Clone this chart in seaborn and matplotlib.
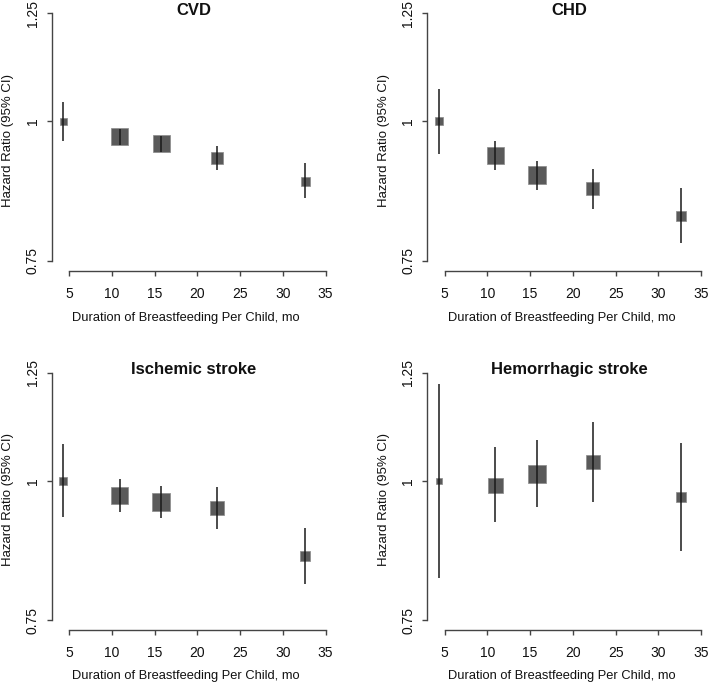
import numpy as np
import pandas as pd
import matplotlib
matplotlib.use("Agg")
import matplotlib.pyplot as plt
import seaborn as sns

# ---- data ----
titles = ["CVD", "CHD", "Ischemic stroke", "Hemorrhagic stroke"]
duration = [4.34, 10.92, 15.78, 22.32, 32.64]

cvd_hr = [1.000, 0.969, 0.955, 0.927, 0.884]
cvd_lo = [0.961, 0.952, 0.938, 0.904, 0.854]
cvd_hi = [1.040, 0.985, 0.971, 0.951, 0.917]
cvd_w = [7.5, 17, 17, 12, 9]

chd_hr = [1.000, 0.932, 0.895, 0.870, 0.822]
chd_lo = [0.935, 0.905, 0.868, 0.835, 0.778]
chd_hi = [1.069, 0.960, 0.922, 0.907, 0.871]
chd_w = [8, 17, 18, 13, 10]

isc_hr = [1.000, 0.970, 0.958, 0.946, 0.856]
isc_lo = [0.929, 0.938, 0.926, 0.906, 0.808]
isc_hi = [1.080, 1.003, 0.989, 0.988, 0.908]
isc_w = [8, 17, 18, 14, 10]

hem_hr = [1.000, 0.991, 1.015, 1.040, 0.968]
hem_lo = [0.819, 0.918, 0.948, 0.958, 0.866]
hem_hi = [1.221, 1.073, 1.089, 1.130, 1.082]
hem_w = [6.5, 15, 18, 14, 10]

series = [
    (cvd_hr, cvd_lo, cvd_hi, cvd_w),
    (chd_hr, chd_lo, chd_hi, chd_w),
    (isc_hr, isc_lo, isc_hi, isc_w),
    (hem_hr, hem_lo, hem_hi, hem_w),
]

xticks = [5, 10, 15, 20, 25, 30, 35]
yticks = [0.75, 1.0, 1.25]
ytick_labels = ["0.75", "1", "1.25"]
xlabel = "Duration of Breastfeeding Per Child, mo"
ylabel = "Hazard Ratio (95% CI)"

# ---- style ----
sns.set_style("white")
plt.rcParams["font.family"] = ["Liberation Sans", "DejaVu Sans"]

W, H = 709, 686
fig = plt.figure(figsize=(W / 100, H / 100), dpi=100)

axis_col = "#444444"
text_col = "#111111"
# panel pixel geometry (left edge, bottom edge of plotting region, xlabel offset)
panel_px = [(51.7, 270.7, 47.3), (427.3, 270.7, 47.3), (51.7, 630.3, 46.0), (427.3, 630.3, 46.0)]
pw, ph = 284.3, 267.4

for (hr, lo, hi, w), title, (lx, by, xo) in zip(series, titles, panel_px):
    ax = fig.add_axes([lx / W, 1 - by / H, pw / W, ph / H])
    ax.set_facecolor("none")
    df = pd.DataFrame({"x": duration, "hr": hr, "lo": lo, "hi": hi, "w": w})
    df["s"] = (df["w"] * 0.72) ** 2
    sns.scatterplot(data=df, x="x", y="hr", size="s", sizes=(df["s"].min(), df["s"].max()),
                    marker="s", color="#5a5a5a", edgecolor="#8a8a8a", linewidth=0.5,
                    legend=False, ax=ax, zorder=2)
    ax.vlines(df["x"], df["lo"], df["hi"], color="#1a1a1a", linewidth=1.1, zorder=3)

    ax.set_yscale("log")
    ax.set_xlim(2.98, 36.21)
    ax.set_ylim(0.75 * np.exp(-0.0206), 1.25 * np.exp(0.0204))
    ax.set_yticks(yticks)
    ax.set_yticklabels(ytick_labels, rotation=90, va="center")
    ax.yaxis.set_minor_locator(matplotlib.ticker.NullLocator())
    ax.set_xticks(xticks)
    ax.set_xticklabels([str(t) for t in xticks])

    for side in ["top", "right"]:
        ax.spines[side].set_visible(False)
    ax.spines["left"].set_bounds(0.75, 1.25)
    ax.spines["bottom"].set_bounds(5, 35)
    for side in ["left", "bottom"]:
        ax.spines[side].set_color(axis_col)
        ax.spines[side].set_linewidth(1.0)
    ax.tick_params(axis="both", which="major", direction="out", length=3.6, width=1.0,
                   color=axis_col, labelsize=10, labelcolor=text_col,
                   left=True, bottom=True)
    ax.tick_params(axis="x", pad=8)
    ax.tick_params(axis="y", pad=5)

    ax.set_xlabel(xlabel, fontsize=9.3, color=text_col, va="center")
    ax.xaxis.set_label_coords(0.4717, -xo / ph)
    ax.set_ylabel(ylabel, fontsize=9.5, color=text_col, va="center")
    ax.yaxis.set_label_coords(-43.4 / pw, 0.488)
    ax.text(0.5, 0.957, title, transform=ax.transAxes, ha="center", va="baseline",
            fontsize=12, fontweight="bold", color=text_col)

fig.savefig("out.png", dpi=100)
